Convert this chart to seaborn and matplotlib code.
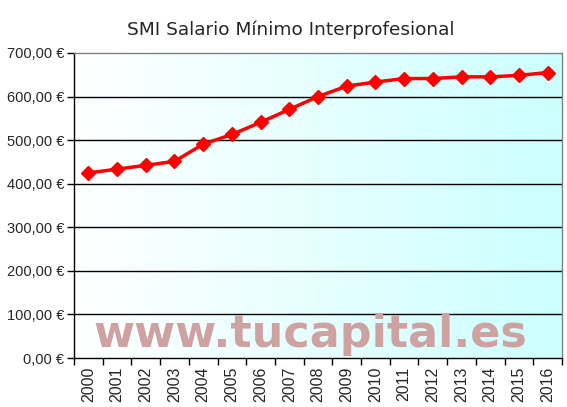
import numpy as np
import pandas as pd
import matplotlib
matplotlib.use("Agg")
import matplotlib.pyplot as plt
import seaborn as sns
from matplotlib.colors import LinearSegmentedColormap

years = ["2000", "2001", "2002", "2003", "2004", "2005", "2006", "2007", "2008",
         "2009", "2010", "2011", "2012", "2013", "2014", "2015", "2016"]
smi = [424.80, 433.45, 442.20, 451.20, 490.80, 513.00, 540.90, 570.60, 600.00,
       624.00, 633.30, 641.40, 641.40, 645.30, 645.30, 648.60, 655.20]
yticks = [0, 100, 200, 300, 400, 500, 600, 700]
title = "SMI Salario Mínimo Interprofesional"
watermark = "www.tucapital.es"

sns.set_style("white")
plt.rcParams['font.family'] = ['Liberation Sans', 'DejaVu Sans']

df = pd.DataFrame({"year": years, "smi": smi})
df["pos"] = np.arange(len(years))

fig = plt.figure(figsize=(5.67, 4.07), dpi=100)
ax = fig.add_axes([74/567, 1-358/407, 488/567, 305/407])

# gradient background
cmap = LinearSegmentedColormap.from_list("bg", ["#ffffff", "#ccffff"])
grad = np.linspace(0, 1, 256).reshape(1, -1)
ax.imshow(grad, cmap=cmap, aspect="auto", extent=[-0.5, len(years)-0.5, 0, 700],
          zorder=0, interpolation="bilinear")

for y in yticks[1:-1]:
    ax.axhline(y, color="black", lw=1, zorder=1)

sns.lineplot(data=df, x="pos", y="smi", ax=ax, color="#ff0000", lw=2.5,
             marker="D", markersize=7.5, markeredgecolor="#ff0000",
             markeredgewidth=1, zorder=3)

ax.set_xlim(-0.5, len(years)-0.5)
ax.set_ylim(0, 700)
ax.set_yticks(yticks)
ax.set_yticklabels([f"{v:,.2f} €".replace(".", ",") for v in yticks], fontsize=10.5)
ax.set_xticks(np.arange(len(years)))
ax.set_xticklabels(years, rotation=90, fontsize=11.5)
ax.set_xticks(np.arange(len(years)+1)-0.5, minor=True)
ax.tick_params(axis="x", which="major", length=0, pad=6)
ax.tick_params(axis="x", which="minor", length=5, width=1, color="black", direction="out", bottom=True)
ax.tick_params(axis="y", length=5, width=1, color="black", direction="out", left=True, pad=2)
ax.set_xlabel("")
ax.set_ylabel("")

for s in ["left", "bottom"]:
    ax.spines[s].set_color("black")
    ax.spines[s].set_linewidth(1)
for s in ["top", "right"]:
    ax.spines[s].set_color("#808080")
    ax.spines[s].set_linewidth(1)

ax.text(7.75, 55, watermark, fontsize=32, fontweight="bold", color="#cfa2a2",
        ha="center", va="center", zorder=2, family="DejaVu Sans")

fig.text(291/567, 1-30/407, title, fontsize=13.3, ha="center", va="center",
         family="DejaVu Sans")

fig.savefig("out.png", dpi=100)
